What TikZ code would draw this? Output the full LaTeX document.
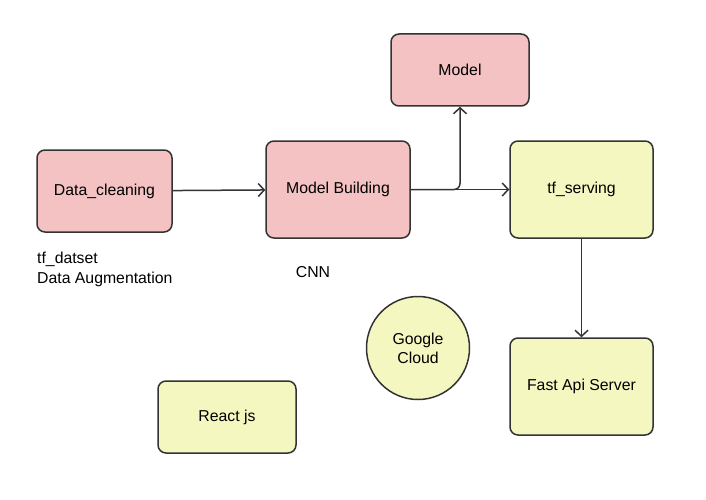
\documentclass[tikz,border=0pt]{standalone}
\usepackage{fontspec}
\setmainfont{Liberation Sans}
\usetikzlibrary{arrows.meta}
\definecolor{boxpink}{HTML}{F4C2C2}
\definecolor{boxyellow}{HTML}{F5F7C0}
\definecolor{linegray}{HTML}{333333}
\tikzset{
	pinkbox/.style={draw=linegray, fill=boxpink, line width=1.5pt, rounded corners=8pt, font=\fontsize{15.8}{19}\selectfont},
	yellowbox/.style={draw=linegray, fill=boxyellow, line width=1.5pt, rounded corners=8pt, font=\fontsize{15.8}{19}\selectfont},
	flow/.style={draw=linegray, line width=1.5pt, -{Straight Barb[length=6pt, width=13pt]}},
	note/.style={font=\fontsize{15.8}{20}\selectfont}
}
\begin{document}
\begin{tikzpicture}[x=1pt, y=-1pt]
		\useasboundingbox (0,0) rectangle (706,500);
		\node [pinkbox, minimum width=135pt, minimum height=82pt] (clean) at (104.5,191) {Data\_cleaning};
		\node [pinkbox, minimum width=144pt, minimum height=97pt] (build) at (338,189.5) {Model Building};
		\node [pinkbox, minimum width=138pt, minimum height=72pt] (model) at (460,70) {Model};
		\node [yellowbox, minimum width=143pt, minimum height=97pt] (serve) at (581.5,189.5) {tf\_serving};
		\node [yellowbox, minimum width=143pt, minimum height=97pt] (api) at (581.5,386.5) {Fast Api Server};
		\node [yellowbox, minimum width=138pt, minimum height=72pt] (react) at (227,417) {React js};
		\node [yellowbox, circle, minimum size=103pt, align=center, inner sep=0pt] (cloud) at (418,348) {Google\\Cloud};
		\node [note, anchor=north west, align=left, inner sep=0pt] (aug) at (37,252) {tf\_datset\\Data Augmentation};
		\node [note] (cnn) at (313,272) {CNN};
		\draw [flow] (clean) -- (build);
		\draw [flow] (build) -- (serve);
		\draw [flow, rounded corners=6pt] (build.east) -| (model.south);
		\draw [flow] (serve) -- (api);
	\end{tikzpicture}
\end{document}
